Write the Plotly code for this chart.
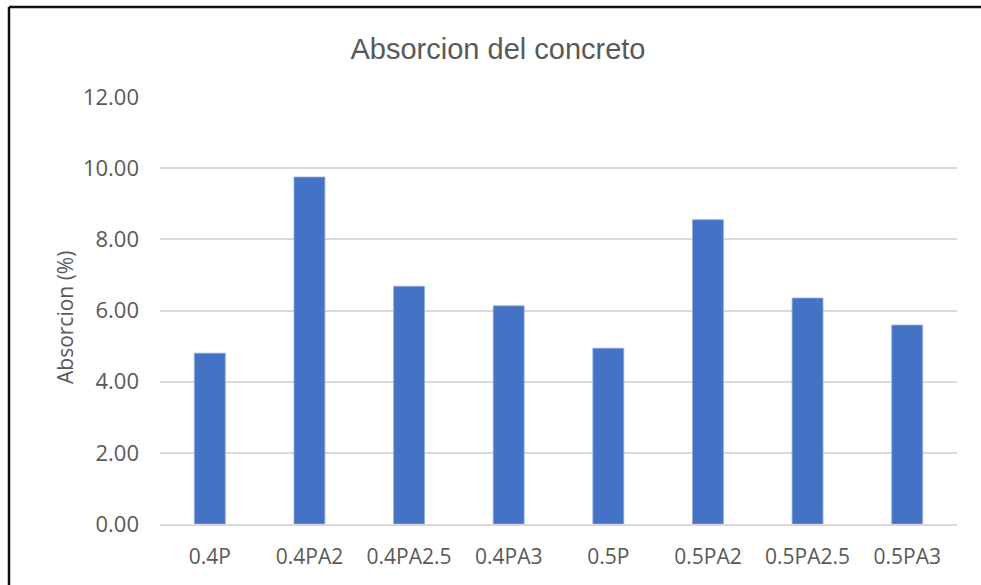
import plotly.graph_objects as go

categories = ["0.4P", "0.4PA2", "0.4PA2.5", "0.4PA3", "0.5P", "0.5PA2", "0.5PA2.5", "0.5PA3"]
absorcion = [4.80, 9.75, 6.68, 6.13, 4.94, 8.55, 6.35, 5.59]
y_ticks = [0, 2, 4, 6, 8, 10, 12]
y_tick_labels = ["0.00", "2.00", "4.00", "6.00", "8.00", "10.00", "12.00"]

W, H = 981, 585
ML, MR, MT, MB = 160, 24, 97, 61
PW, PH = W - ML - MR, H - MT - MB


def px_x(p):
    return (p - ML) / PW


def px_y(p):
    return (H - MB - p) / PH


fig = go.Figure(
    go.Bar(
        x=categories,
        y=absorcion,
        marker=dict(color="#4472C4", line=dict(color="#8FA9DC", width=0.8)),
        width=0.31,
    )
)

# outer frame (left and top edges)
frame = dict(color="#111111", width=2.5)
fig.add_shape(type="line", xref="paper", yref="paper",
              x0=px_x(9), x1=px_x(W + 5), y0=px_y(7), y1=px_y(7), line=frame)
fig.add_shape(type="line", xref="paper", yref="paper",
              x0=px_x(9), x1=px_x(9), y0=px_y(7), y1=px_y(H + 5), line=frame)

# y axis title
fig.add_annotation(
    text="Absorcion (%)",
    xref="paper", yref="paper",
    x=px_x(65), y=px_y(318),
    xanchor="center", yanchor="middle",
    textangle=-90, showarrow=False,
    font=dict(family="Open Sans, sans-serif", size=21, color="#595959"),
)

fig.update_layout(
    width=W,
    height=H,
    margin=dict(l=ML, r=MR, t=MT, b=MB),
    paper_bgcolor="white",
    plot_bgcolor="white",
    showlegend=False,
    title=dict(
        text="Absorcion del concreto",
        x=498 / W, xanchor="center", xref="container",
        y=1 - 49 / H, yanchor="middle", yref="container",
        font=dict(family="Liberation Sans, Arial, sans-serif", size=29, color="#595959"),
    ),
    xaxis=dict(
        tickfont=dict(family="Open Sans, sans-serif", size=21, color="#595959"),
        showgrid=False,
        showline=True,
        linecolor="#D9D9D9",
        linewidth=1.5,
        ticks="",
        ticklabelstandoff=13,
    ),
    yaxis=dict(
        range=[0, 12],
        tickvals=y_ticks,
        ticktext=y_tick_labels,
        tickfont=dict(family="Open Sans, sans-serif", size=22, color="#595959"),
        showgrid=True,
        gridcolor="#D9D9D9",
        gridwidth=1.5,
        zeroline=False,
        ticks="",
        ticklabelstandoff=20,
    ),
)

fig.write_html("out.html")
